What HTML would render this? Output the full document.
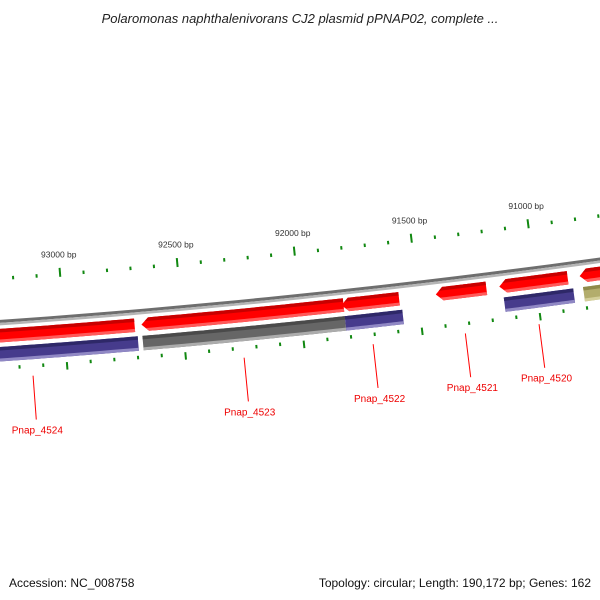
<!DOCTYPE html>
<html><head><meta charset="utf-8"><style>
html,body{margin:0;padding:0;background:#fff;}
svg{display:block;font-family:"Liberation Sans",sans-serif;}
</style></head><body>
<svg id="chart" width="600" height="600" viewBox="0 0 600 600">
<text x="300" y="23" text-anchor="middle" font-size="13" font-style="italic" fill="#222">Polaromonas naphthalenivorans CJ2 plasmid pPNAP02, complete ...</text>
<g id="layer"></g>
<text x="9" y="587" font-size="12" fill="#111">Accession: NC_008758</text>
<text x="591" y="587" text-anchor="end" font-size="12" fill="#111">Topology: circular; Length: 190,172 bp; Genes: 162</text>
</svg>
<script>
// data
const fwdStarts=[92703,91817,91581,91210,90864,90500];
const fwdEnds=[93600,92674,91826,91425,91155,90813];
const fwdArrow=[false,true,true,true,true,true];
const revStarts=[92694,91817,91573,90847,90500];
const revEnds=[93600,92674,91817,91142,90805];
const revKind=['blue','grey','blue','blue','olive'];
const labelNames=['Pnap_4524','Pnap_4523','Pnap_4522','Pnap_4521','Pnap_4520'];
const labelBp=[93146,92256,91711,91321,91009];
const tickMin=90500, tickMax=93500, tickStep=100, majorStep=500;

const cx=-630, cy=-8650, RT=8950;
const a0=Math.asin(690/RT), pxPerBp=0.2354;
function ang(bp){return a0+(93000-bp)*pxPerBp/RT;}
function pt(r,bp){const a=ang(bp);return [cx+r*Math.sin(a),cy+r*Math.cos(a)];}
function arcPts(r,b1,b2){const n=30,out=[];for(let i=0;i<=n;i++){out.push(pt(r,b1+(b2-b1)*i/n));}return out;}
const NS='http://www.w3.org/2000/svg';
const layer=document.getElementById('layer');
function mk(tag,attrs,parent){const e=document.createElementNS(NS,tag);for(const k in attrs)e.setAttribute(k,attrs[k]);(parent||layer).appendChild(e);return e;}
function poly(points){return 'M'+points.map(p=>p[0].toFixed(2)+','+p[1].toFixed(2)).join('L')+'Z';}
function band(r1,r2,b1,b2){return poly(arcPts(r1,b1,b2).concat(arcPts(r2,b2,b1)));}
let clipId=0;
const defs=mk('defs',{});
function gene(r1,r2,b1,b2,arrow,cols,name){
  const tipLen=30;
  let pts;
  if(arrow){const bb=b2-tipLen;pts=arcPts(r1,b1,bb).concat([pt((r1+r2)/2,b2)]).concat(arcPts(r2,bb,b1));}
  else pts=arcPts(r1,b1,b2).concat(arcPts(r2,b2,b1));
  const id='c'+(clipId++);
  const cp=mk('clipPath',{id:id},defs);
  mk('path',{d:poly(pts)},cp);
  const g=mk('g',{'clip-path':'url(#'+id+')'});
  
  
  const lo=Math.min(b1,b2)-50, hi=Math.max(b1,b2)+50;
  mk('path',{d:band(r1-2,r2+2,lo,hi),fill:cols[1]},g);
  mk('path',{d:band(r1-2,r1+3.5,lo,hi),fill:cols[0]},g);
  mk('path',{d:band(r2-3,r2+2,lo,hi),fill:cols[2]},g);
}
// backbone
const bbg=mk('g',{});


mk('path',{d:band(8992,8995,tickMin-500,tickMax+500),fill:'#6e6e6e'},bbg);
mk('path',{d:band(8995,8997.5,tickMin-500,tickMax+500),fill:'#b5b5b5'},bbg);
// ticks
for(let bp=tickMin;bp<=tickMax;bp+=tickStep){
  const major=bp%majorStep===0;
  const t1=major?[8944.5,8953.5]:[8949,8952.5];
  const p1=pt(t1[0],bp),p2=pt(t1[1],bp);
  const l=mk('line',{x1:p1[0],y1:p1[1],x2:p2[0],y2:p2[1],stroke:'#118811','stroke-width':2});
  
  
  const t2=major?[9039,9046.5]:[9038.5,9042];
  const q1=pt(t2[0],bp),q2=pt(t2[1],bp);
  const l2=mk('line',{x1:q1[0],y1:q1[1],x2:q2[0],y2:q2[1],stroke:'#118811','stroke-width':2});
  
  
  if(major){
    const tp=pt(8934,bp);
    const tx=mk('text',{x:tp[0],y:tp[1],'text-anchor':'middle','font-size':'8.5',fill:'#333'});
    tx.textContent=bp+' bp';
    
    
  }
}
const red=['#c80000','#ff0000','#ff5a5a'];
const kinds={blue:['#2e2868','#463b8c','#9088c4'],grey:['#4a4a4a','#666666','#acacac'],olive:['#8f8a4a','#b3ad6c','#d4cf9a']};
for(let i=0;i<fwdStarts.length;i++) gene(9001,9014.5,fwdStarts[i],fwdEnds[i],fwdArrow[i],red,'forward-gene');
for(let i=0;i<revStarts.length;i++) gene(9019,9033.5,revStarts[i],revEnds[i],false,kinds[revKind[i]],'reverse-gene');
// labels
for(let i=0;i<labelNames.length;i++){
  const p1=pt(9050,labelBp[i]),p2=pt(9094,labelBp[i]);
  const ln=mk('line',{x1:p1[0],y1:p1[1],x2:p2[0],y2:p2[1],stroke:'#ff0000','stroke-width':1});
  
  
  const tp=pt(9108,labelBp[i]);
  const tx=mk('text',{x:tp[0],y:tp[1],'text-anchor':'middle','font-size':'10',fill:'#ee0000'});
  tx.textContent=labelNames[i];
  
  
}
</script>
</body></html>
